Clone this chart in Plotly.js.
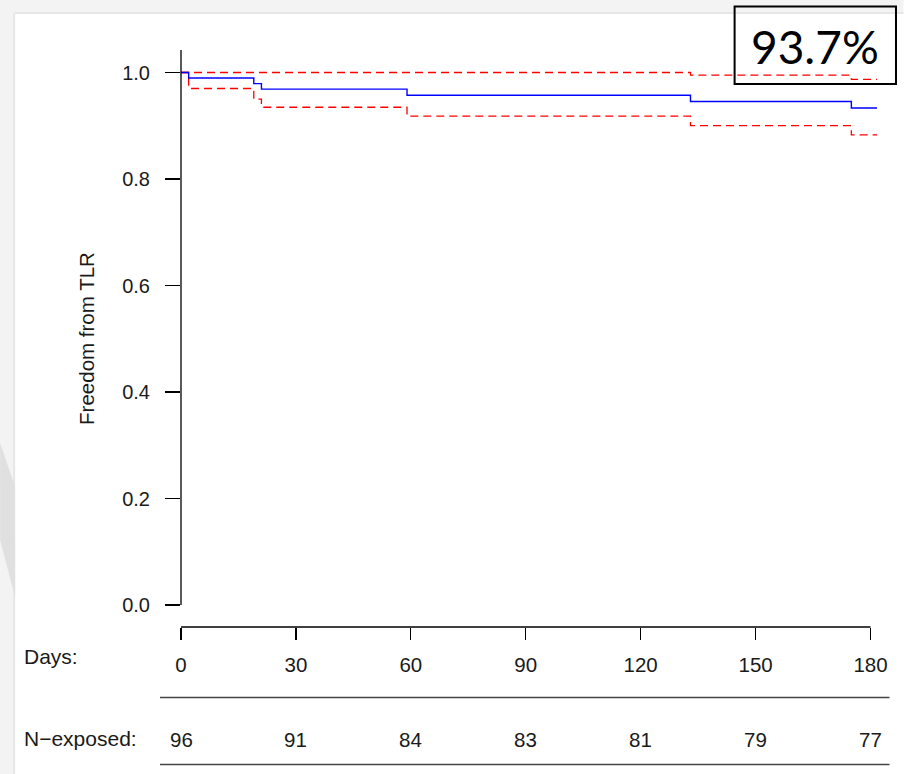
<!DOCTYPE html>
<html>
<head>
<meta charset="utf-8">
<script src="https://cdn.plot.ly/plotly-3.0.1.min.js"></script>
<style>html,body{margin:0;padding:0;background:#fff;}#chart{width:904px;height:774px;}</style>
</head>
<body>
<div id="chart"></div>
<script>
// Kaplan-Meier estimate (freedom from TLR) and 95% CI
const kmDays   = [0, 2, 19, 21, 59, 133, 175, 181.7];
const kmSurv   = [1, 0.9896, 0.9792, 0.9688, 0.9573, 0.9455, 0.9335, 0.9335];
const upperDays = [0, 133, 175, 181.7];
const upperCI   = [1, 0.995, 0.987, 0.987];
const lowerDays = [0, 2, 19, 21, 59, 133, 175, 181.7];
const lowerCI   = [1, 0.970, 0.950, 0.9348, 0.918, 0.9004, 0.8828, 0.8828];
// risk table
const dayTicks   = [0, 30, 60, 90, 120, 150, 180];
const nExposed   = [96, 91, 84, 83, 81, 79, 77];
const yTicks     = [0, 0.2, 0.4, 0.6, 0.8, 1.0];
const yTickText  = ['0.0', '0.2', '0.4', '0.6', '0.8', '1.0'];
const summaryLabel = '93.7%';

const FONT = 'Liberation Sans, Arial, sans-serif';
const TXT = '#1a1a1a';

const traces = [
  {x: upperDays, y: upperCI, mode: 'lines', line: {shape: 'hv', color: '#ff0000', width: 1.3, dash: '8px,5px'}, hoverinfo: 'skip', showlegend: false},
  {x: lowerDays, y: lowerCI, mode: 'lines', line: {shape: 'hv', color: '#ff0000', width: 1.3, dash: '8px,5px'}, hoverinfo: 'skip', showlegend: false},
  {x: kmDays, y: kmSurv, mode: 'lines', line: {shape: 'hv', color: '#0000ff', width: 1.4}, showlegend: false}
];

// pixel helpers for paper coordinates
const L = 181, R = 21.5, T = 50, B = 147, W = 904, H = 774;
const pw = W - L - R, ph = H - T - B;
const px = v => (v - L) / pw;
const py = v => (H - B - v) / ph;

const annotations = [
  {text: 'Days:', xref: 'paper', yref: 'paper', x: px(22), y: py(656), xanchor: 'left', yanchor: 'middle', showarrow: false, font: {family: FONT, size: 21, color: TXT}},
  {text: 'N\u2212exposed:', xref: 'paper', yref: 'paper', x: px(22), y: py(738), xanchor: 'left', yanchor: 'middle', showarrow: false, font: {family: FONT, size: 21, color: TXT}},
  {text: summaryLabel, xref: 'paper', yref: 'paper', x: px(815), y: py(46), xanchor: 'center', yanchor: 'middle', showarrow: false, font: {family: 'Liberation Sans Narrow, Lato, sans-serif', size: 46, color: '#000'}}
];
nExposed.forEach((n, i) => annotations.push({
  text: String(n), xref: 'x', yref: 'paper', x: dayTicks[i], y: py(739), xanchor: 'center', yanchor: 'middle', showarrow: false, font: {family: FONT, size: 20.5, color: TXT}
}));

const shapes = [
  // slide background frame
  {type: 'rect', xref: 'paper', yref: 'paper', x0: px(0), x1: px(904), y0: py(14), y1: py(0), fillcolor: '#f3f3f3', line: {width: 0}, layer: 'below'},
  {type: 'line', xref: 'paper', yref: 'paper', x0: px(14), x1: px(904), y0: py(13), y1: py(13), line: {color: '#e6e6e6', width: 2}, layer: 'below'},
  {type: 'rect', xref: 'paper', yref: 'paper', x0: px(0), x1: px(14), y0: py(774), y1: py(0), fillcolor: '#f3f3f3', line: {width: 0}, layer: 'below'},
  {type: 'line', xref: 'paper', yref: 'paper', x0: px(14), x1: px(14), y0: py(774), y1: py(13), line: {color: '#e6e6e6', width: 2}, layer: 'below'},
  {type: 'path', xref: 'paper', yref: 'paper', path: `M ${px(0)} ${py(443)} L ${px(15)} ${py(487)} L ${px(15)} ${py(597)} L ${px(0)} ${py(540)} Z`, fillcolor: '#e0e0e0', line: {width: 0}, layer: 'below'},
  // y axis line (0 to top)
  {type: 'line', xref: 'paper', yref: 'paper', x0: 0, x1: 0, y0: py(605), y1: 1, line: {color: '#000', width: 1.3}},
  // x axis line
  {type: 'line', xref: 'x', yref: 'paper', x0: dayTicks[0], x1: dayTicks[dayTicks.length - 1], y0: 0, y1: 0, line: {color: '#000', width: 1.3}},
  // risk table separators
  {type: 'line', xref: 'paper', yref: 'paper', x0: px(160), x1: px(890), y0: py(697.5), y1: py(697.5), line: {color: '#444', width: 1.6}},
  {type: 'line', xref: 'paper', yref: 'paper', x0: px(160), x1: px(890), y0: py(764.5), y1: py(764.5), line: {color: '#444', width: 1.6}},
  // summary box
  {type: 'rect', xref: 'paper', yref: 'paper', x0: px(735), x1: px(896.5), y0: py(84), y1: py(6.5), line: {color: '#000', width: 2}, fillcolor: 'rgba(0,0,0,0)'}
];

const layout = {
  width: W, height: H,
  margin: {l: L, r: R, t: T, b: B, pad: 0},
  paper_bgcolor: '#fff', plot_bgcolor: 'rgba(0,0,0,0)',
  showlegend: false,
  xaxis: {
    range: [0, 183], showgrid: false, zeroline: false, showline: false,
    tickmode: 'array', tickvals: dayTicks, ticktext: dayTicks.map(String),
    ticks: 'outside', ticklen: 12, tickwidth: 1.3, tickcolor: '#000',
    ticklabelstandoff: 7,
    tickfont: {family: FONT, size: 20.5, color: TXT}
  },
  yaxis: {
    range: [-0.0413, 1.0423], showgrid: false, zeroline: false, showline: false,
    tickmode: 'array', tickvals: yTicks, ticktext: yTickText,
    ticks: 'outside', ticklen: 15, tickwidth: 1.3, tickcolor: '#000',
    ticklabelstandoff: 11,
    tickfont: {family: FONT, size: 20, color: TXT},
    title: {text: 'Freedom from TLR', font: {family: FONT, size: 20.5, color: TXT}, standoff: 22}
  },
  annotations: annotations,
  shapes: shapes
};

Plotly.newPlot('chart', traces, layout, {displayModeBar: false, staticPlot: true});
</script>
</body>
</html>
